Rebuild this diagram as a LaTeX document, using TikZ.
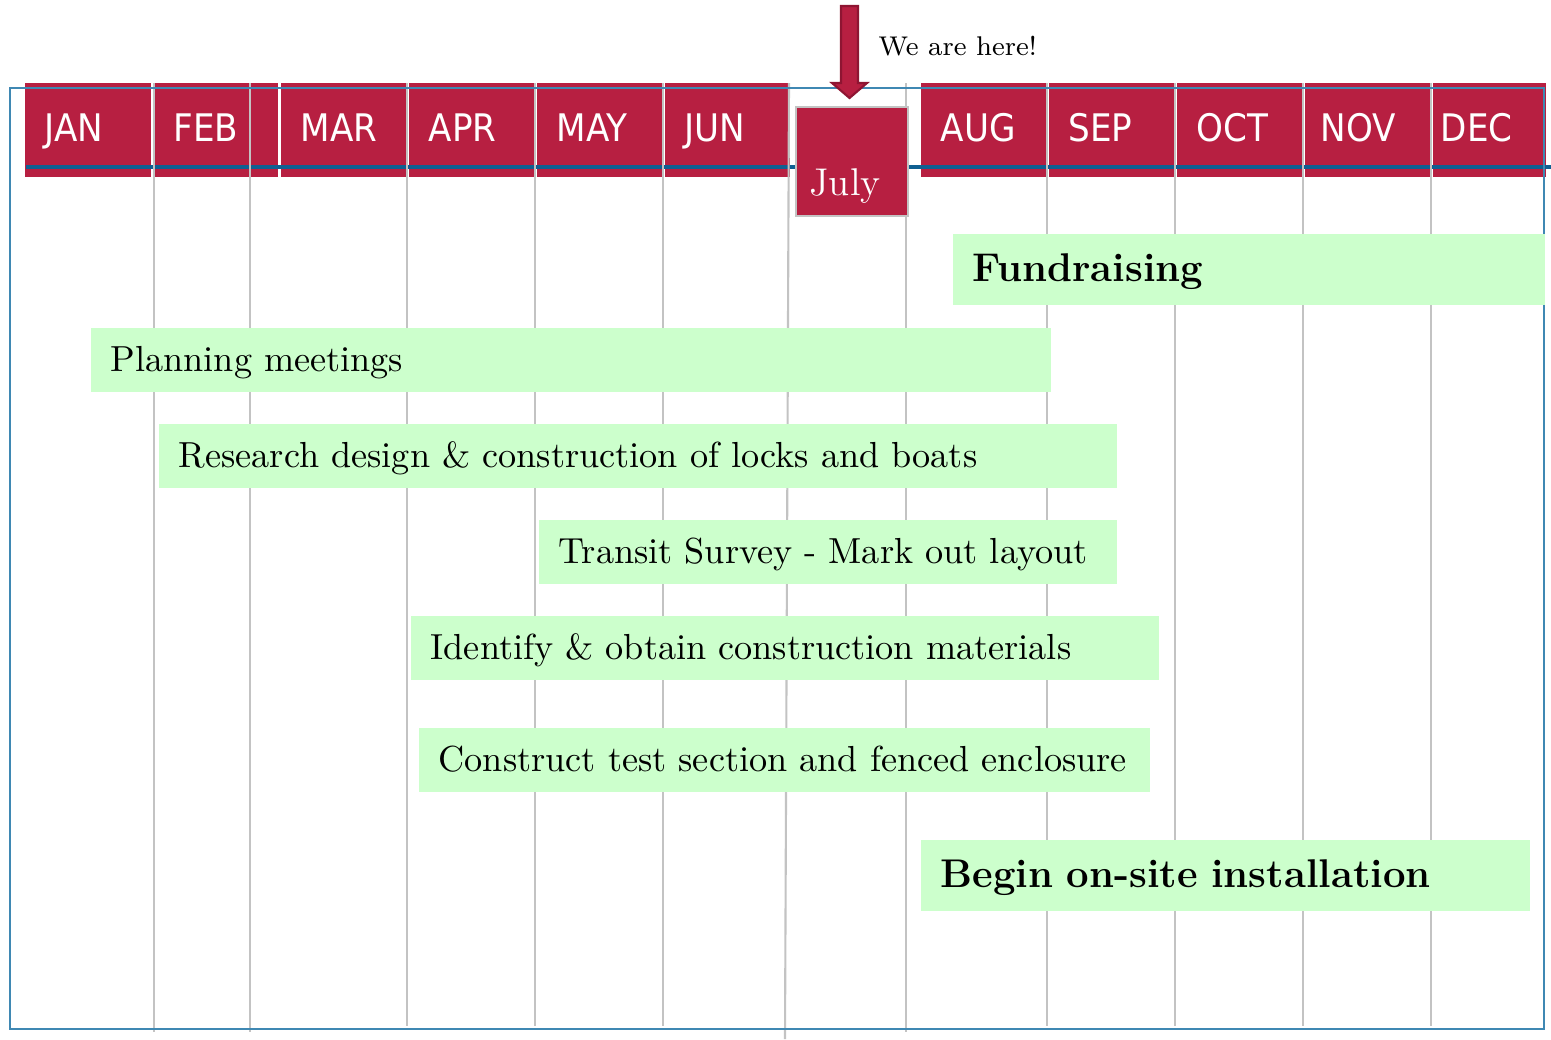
\documentclass[tikz,border=0pt]{standalone}
\usepackage{fontspec}
\newfontfamily\monfam{DejaVu Sans Condensed}
\definecolor{hdr}{HTML}{B71F41}
\definecolor{hdrdark}{HTML}{8E1532}
\definecolor{barg}{HTML}{CCFFCC}
\definecolor{gridg}{HTML}{C3C3C3}
\definecolor{frameb}{HTML}{3F88B3}
\definecolor{lineb}{HTML}{0F6092}
\begin{document}
\begin{tikzpicture}[x=0.01cm,y=-0.01cm,
  mon/.style={fill=hdr, text=white, font=\monfam\fontsize{10.8}{13}\selectfont, anchor=west,
    minimum height=0.94cm, inner xsep=0.2cm, inner ysep=0pt, align=left,
    text height=0.91em, text depth=0.26em},
  bar/.style={fill=barg, anchor=west, inner xsep=0.2cm, inner ysep=0pt, align=left,
    minimum height=0.64cm, font=\fontsize{10.3}{12}\selectfont,
    text height=0.9em, text depth=0.22em},
  bigbar/.style={bar, minimum height=0.71cm, font=\bfseries\fontsize{11.4}{13}\selectfont},
  grid/.style={draw=gridg, line width=0.6pt},
]
\useasboundingbox (0,0) rectangle (1551,1039);
% header boxes
\node[mon, text width=0.86cm] (jan) at (24,130) {JAN};
\node[mon, text width=0.84cm] (feb) at (153,130) {FEB};
\node[mon, text width=0.86cm] (mar) at (280,130) {MAR};
\node[mon, text width=0.87cm] (apr) at (408,130) {APR};
\node[mon, text width=0.86cm] (may) at (536,130) {MAY};
\node[mon, text width=0.85cm] (jun) at (664,130) {JUN};
\node[mon, text width=0.86cm] (aug) at (920,130) {AUG};
\node[mon, text width=0.86cm] (sep) at (1048,130) {SEP};
\node[mon, text width=0.86cm] (oct) at (1176,130) {OCT};
\node[mon, text width=0.94cm, inner xsep=0.16cm] (nov) at (1304,130) {NOV};
\node[mon, text width=0.97cm, inner xsep=0.08cm] (dec) at (1432,130) {DEC};
% thick blue line
\coordinate (bl0) at (26,167);
\coordinate (bl1) at (1551,167);
\draw[lineb, line width=1.2pt] (bl0) -- (bl1);
% grid lines
\foreach \x/\b in {154/1032, 250/1032, 407/1026, 535/1026, 663/1026, 906/1032, 1047/1026, 1175/1026, 1303/1026, 1431/1026}
  \draw[grid] (\x,83) -- (\x,\b);
\coordinate (g7a) at (789,83);
\coordinate (g7b) at (785,1039);
\draw[grid] (g7a) -- (g7b);
% July box
\node[fill=hdr, draw=gridg, line width=0.6pt, anchor=north west, minimum width=1.12cm, minimum height=1.09cm] (jul) at (795,106) {};
\node[text=white, font=\fontsize{11}{13}\selectfont] (jultxt) at (845,186) {July};
% frame
\draw[frameb, line width=0.45pt] (10,88) rectangle (1544,1029);
% task bars
\node[bigbar, text width=5.52cm] (fund) at (952,269.5) {Fundraising};
\node[bar, text width=9.20cm] (plan) at (90,360) {Planning meetings};
\node[bar, text width=9.18cm] (res) at (158,456) {Research design \& construction of locks and boats};
\node[bar, text width=5.38cm] (tran) at (538,552) {Transit Survey - Mark out layout};
\node[bar, text width=7.08cm] (iden) at (410,648) {Identify \& obtain construction materials};
\node[bar, text width=6.91cm] (cons) at (418,760) {Construct test section and fenced enclosure};
\node[bigbar, text width=5.69cm] (begin) at (920,875.5) {Begin on-site installation};
% arrow
\draw[fill=hdr, draw=hdrdark, line width=0.6pt, line join=miter]
  (841,6) -- (858,6) -- (858,83) -- (867,83) -- (849.5,98) -- (832,83) -- (841,83) -- cycle;
\node[anchor=west, font=\fontsize{7.7}{9}\selectfont, inner sep=0pt] (here) at (878,46) {We are here!};
\end{tikzpicture}
\end{document}
